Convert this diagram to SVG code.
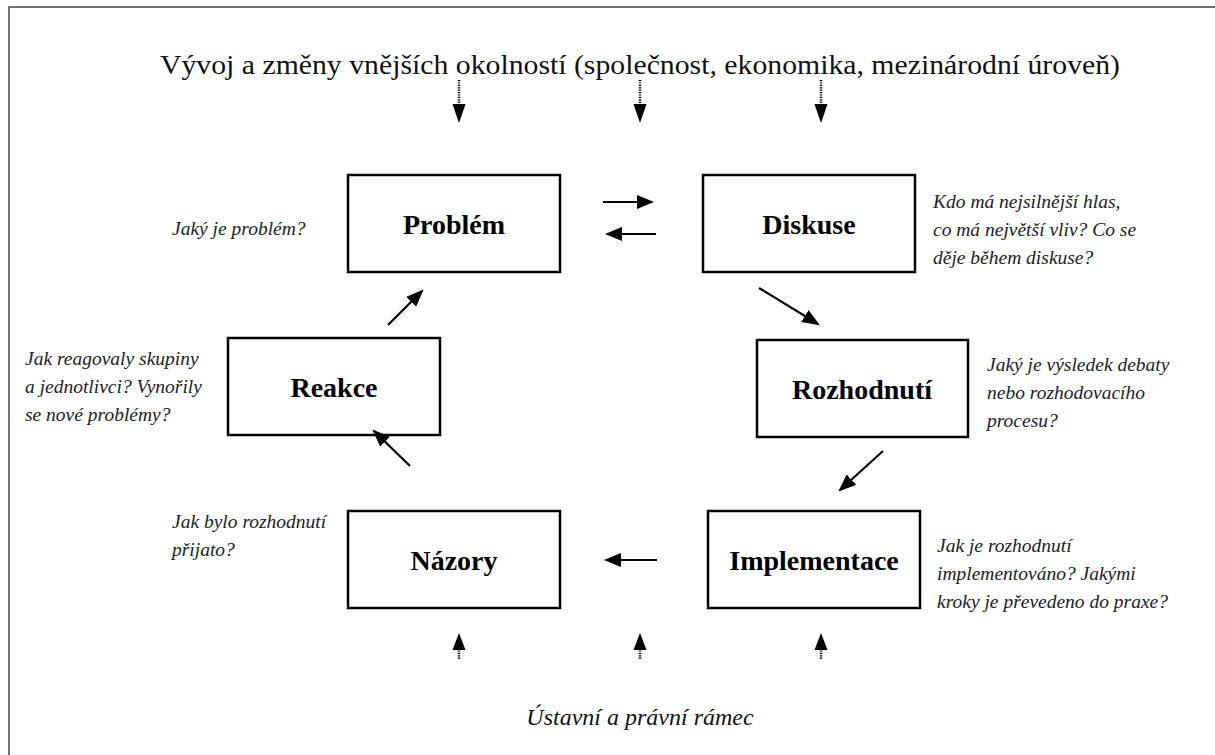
<svg xmlns="http://www.w3.org/2000/svg" width="1215" height="755" viewBox="0 0 1215 755">
<style>
.box{fill:#fff;stroke:#000;stroke-width:2.5}
.lbl{font-family:"Liberation Serif","Times New Roman",serif;font-weight:bold;font-size:28px;text-anchor:middle}
.note{font-family:"Liberation Serif","Times New Roman",serif;font-style:italic;font-size:19.5px;fill:#222}
.head{font-family:"Liberation Serif","Times New Roman",serif;font-size:28px;text-anchor:middle;fill:#111}
.foot{font-family:"Liberation Serif","Times New Roman",serif;font-style:italic;font-size:24px;text-anchor:middle;fill:#111}
.arr{stroke:#000;stroke-width:2.2;fill:none;marker-end:url(#ah)}
.dot{stroke:#000;stroke-width:2.5;stroke-dasharray:1.2 1.2;fill:none}
</style>
<defs>
<marker id="ah" markerWidth="8" markerHeight="6.4" refX="7" refY="3.2" orient="auto" markerUnits="strokeWidth">
<path d="M0,0 L8,3.2 L0,6.4 Z" fill="#000"/>
</marker>
</defs>
<rect x="0" y="0" width="1215" height="755" fill="#fff"/>
<path d="M9,755 V7 H1215" fill="none" stroke="#444" stroke-width="1.5"/>

<text class="head" x="640" y="74" textLength="960" lengthAdjust="spacingAndGlyphs">Vývoj a změny vnějších okolností (společnost, ekonomika, mezinárodní úroveň)</text>
<text class="foot" x="640" y="725">Ústavní a právní rámec</text>

<g id="problem"><rect class="box" x="348" y="175" width="212" height="97"/><text class="lbl" x="454" y="234">Problém</text></g>
<g id="diskuse"><rect class="box" x="703" y="175" width="212" height="97"/><text class="lbl" x="809" y="234">Diskuse</text></g>
<g id="reakce"><rect class="box" x="228" y="338" width="212" height="97"/><text class="lbl" x="334" y="397">Reakce</text></g>
<g id="rozhodnuti"><rect class="box" x="757" y="340" width="211" height="97"/><text class="lbl" x="862" y="399">Rozhodnutí</text></g>
<g id="nazory"><rect class="box" x="348" y="511" width="212" height="97"/><text class="lbl" x="454" y="570">Názory</text></g>
<g id="implementace"><rect class="box" x="708" y="511" width="212" height="97"/><text class="lbl" x="814" y="570">Implementace</text></g>

<g id="notes">
<text class="note" x="172" y="235">Jaký je problém?</text>
<text class="note" x="933" y="208">Kdo má nejsilnější hlas,</text>
<text class="note" x="933" y="236">co má největší vliv? Co se</text>
<text class="note" x="933" y="264">děje během diskuse?</text>
<text class="note" x="25" y="365">Jak reagovaly skupiny</text>
<text class="note" x="25" y="393">a jednotlivci? Vynořily</text>
<text class="note" x="25" y="421">se nové problémy?</text>
<text class="note" x="987" y="371">Jaký je výsledek debaty</text>
<text class="note" x="987" y="399">nebo rozhodovacího</text>
<text class="note" x="987" y="427">procesu?</text>
<text class="note" x="172" y="528">Jak bylo rozhodnutí</text>
<text class="note" x="172" y="556">přijato?</text>
<text class="note" x="937" y="552">Jak je rozhodnutí</text>
<text class="note" x="937" y="580">implementováno? Jakými</text>
<text class="note" x="937" y="608">kroky je převedeno do praxe?</text>
</g>

<g id="connectors">
<line class="arr" x1="603" y1="202" x2="652" y2="202"/>
<line class="arr" x1="656" y1="234" x2="607" y2="234"/>
<line class="arr" x1="759" y1="288" x2="818" y2="324"/>
<line class="arr" x1="883" y1="451" x2="840" y2="490"/>
<line class="arr" x1="657" y1="560" x2="606" y2="560"/>
<line class="arr" x1="410" y1="466" x2="374" y2="431"/>
<line class="arr" x1="388" y1="325" x2="422" y2="291"/>
<g id="dotted">
<line class="dot" x1="459" y1="80" x2="459" y2="106"/><path d="M452.5,104 L465.5,104 L459,123 Z"/>
<line class="dot" x1="640" y1="80" x2="640" y2="106"/><path d="M633.5,104 L646.5,104 L640,123 Z"/>
<line class="dot" x1="821" y1="80" x2="821" y2="106"/><path d="M814.5,104 L827.5,104 L821,123 Z"/>
<line class="dot" x1="459" y1="648" x2="459" y2="660"/><path d="M452.5,650 L465.5,650 L459,633 Z"/>
<line class="dot" x1="640" y1="648" x2="640" y2="660"/><path d="M633.5,650 L646.5,650 L640,633 Z"/>
<line class="dot" x1="821" y1="648" x2="821" y2="660"/><path d="M814.5,650 L827.5,650 L821,633 Z"/>
</g>
</g>
</svg>
